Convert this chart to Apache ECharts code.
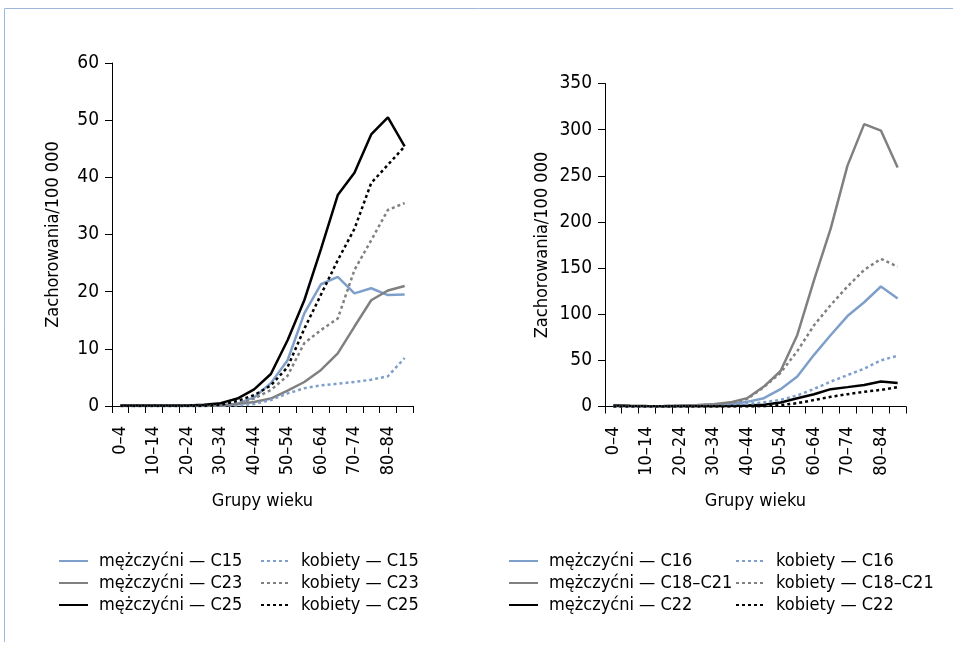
<!DOCTYPE html>
<html>
<head>
<meta charset="utf-8">
<script src="https://cdn.jsdelivr.net/npm/echarts@6/dist/echarts.min.js"></script>
<style>
  html, body { margin: 0; padding: 0; background: #fff; }
  #chart { width: 953px; height: 645px; }
</style>
</head>
<body>
<div id="chart"></div>
<script>
// grupy wieku
var ageGroups = ['0–4', '5–9', '10–14', '15–19', '20–24', '25–29', '30–34', '35–39', '40–44',
    '45–49', '50–54', '55–59', '60–64', '65–69', '70–74', '75–79', '80–84', '85+'];

// lewy wykres: C15, C23, C25
var menC15 = [0, 0, 0, 0, 0, 0, 0.1, 0.4, 1.5, 4, 8, 16.2, 21.3, 22.6, 19.7, 20.6, 19.4, 19.5];
var menC23 = [0, 0, 0, 0, 0, 0, 0.1, 0.3, 0.7, 1.3, 2.7, 4.2, 6.3, 9.2, 13.9, 18.5, 20.2, 21];
var menC25 = [0.1, 0.1, 0.1, 0.1, 0.1, 0.2, 0.5, 1.3, 2.9, 5.6, 11.5, 18.5, 27.5, 36.9, 40.8, 47.5, 50.5, 45.4];
var womenC15 = [0, 0, 0, 0, 0, 0, 0.05, 0.1, 0.35, 1.05, 2.2, 3.1, 3.6, 3.9, 4.2, 4.6, 5.2, 8.4];
var womenC23 = [0, 0, 0, 0, 0, 0, 0.1, 0.4, 1.3, 2.8, 5.3, 11, 13.3, 15.3, 23.8, 29, 34.3, 35.5];
var womenC25 = [0, 0, 0, 0, 0, 0.05, 0.2, 0.9, 1.9, 3.6, 6.8, 13.5, 19.5, 25.5, 31, 39, 42.2, 45.4];

// prawy wykres: C16, C18–C21, C22
var menC16 = [0.5, 0.3, 0.3, 0.4, 0.6, 1, 1.8, 3, 5, 9, 18.8, 32.5, 56, 77.5, 98, 113, 130, 117];
var menC18 = [0.5, 0.3, 0.3, 0.5, 1, 1.5, 2.5, 4.5, 9, 21.6, 38.5, 77.5, 137, 193, 261, 306, 299, 259];
var menC22 = [1.2, 0.8, 0.5, 0.3, 0.3, 0.3, 0.4, 0.5, 1, 2, 4.3, 9, 13.3, 18.8, 21, 23.4, 27, 25.5];
var womenC16 = [0.3, 0.2, 0.2, 0.4, 0.6, 1, 1.5, 2.2, 3, 4.5, 7.2, 12, 19, 27, 34, 41, 50, 55];
var womenC18 = [0.3, 0.2, 0.2, 0.4, 0.8, 1.3, 2.2, 4, 8, 21, 36.5, 60, 88, 110, 130, 148, 160, 151.5];
var womenC22 = [0, 0, 0, 0, 0, 0, 0, 0, 0, 0.3, 1.5, 3.6, 7, 10.5, 13.3, 16, 18, 21];

var FONT = "'Liberation Sans Narrow', 'DejaVu Sans Condensed', sans-serif";
var BLUE = '#7f9fcb', GRAY = '#808080', BLACK = '#000000';
var DOTS = [3, 3];

function xAxisFor(gridIndex) {
    return {
        type: 'category',
        gridIndex: gridIndex,
        data: ageGroups,
        boundaryGap: true,
        name: 'Grupy wieku',
        nameLocation: 'middle',
        nameGap: 86,
        nameTextStyle: { fontFamily: FONT, fontSize: 18, color: '#000' },
        axisLine: { lineStyle: { color: '#000', width: 1 } },
        axisTick: { show: true, interval: 0, length: 7, alignWithLabel: false, lineStyle: { color: '#000' } },
        axisLabel: { interval: 1, rotate: 90, margin: 20, fontFamily: FONT, fontSize: 18, color: '#000' },
        splitLine: { show: false }
    };
}

function yAxisFor(gridIndex, max, interval, gap) {
    return {
        type: 'value',
        gridIndex: gridIndex,
        min: 0,
        max: max,
        interval: interval,
        name: 'Zachorowania/100 000',
        nameLocation: 'middle',
        nameGap: gap,
        nameTextStyle: { fontFamily: FONT, fontSize: 18, color: '#000' },
        axisLine: { show: true, lineStyle: { color: '#000', width: 1 } },
        axisTick: { show: true, length: 7, lineStyle: { color: '#000' } },
        axisLabel: { margin: 13, fontFamily: FONT, fontSize: 19, color: '#000' },
        splitLine: { show: false }
    };
}

function line(name, data, color, dotted, idx) {
    return {
        name: name,
        type: 'line',
        xAxisIndex: idx,
        yAxisIndex: idx,
        data: data,
        symbol: 'none',
        animation: false,
        lineStyle: { color: color, width: 2.5, type: dotted ? DOTS : 'solid' },
        itemStyle: { color: color }
    };
}

function legendAt(left, names) {
    return {
        orient: 'vertical',
        left: left,
        top: 552,
        padding: 0,
        itemWidth: 29,
        itemHeight: 14,
        itemGap: 4,
        data: names,
        itemStyle: { opacity: 0 },
        textStyle: { fontFamily: FONT, fontSize: 18, color: '#000', padding: [0, 0, 0, 6] }
    };
}

var chart = echarts.init(document.getElementById('chart'));
chart.setOption({
    backgroundColor: '#fff',
    animation: false,
    graphic: [{
        type: 'polyline',
        shape: { points: [[4.5, 642], [4.5, 8.5], [953, 8.5]] },
        style: { stroke: '#9db8dc', lineWidth: 1, fill: null }
    }],
    grid: [
        { left: 112, top: 63, width: 301, height: 343 },
        { left: 605, top: 83.5, width: 301, height: 323 }
    ],
    xAxis: [xAxisFor(0), xAxisFor(1)],
    yAxis: [yAxisFor(0, 60, 10, 50), yAxisFor(1, 350, 50, 54)],
    legend: [
        legendAt(58, ['mężczyćni — C15', 'mężczyćni — C23', 'mężczyćni — C25']),
        legendAt(260, ['kobiety — C15', 'kobiety — C23', 'kobiety — C25']),
        legendAt(508, ['mężczyćni — C16', 'mężczyćni — C18–C21', 'mężczyćni — C22']),
        legendAt(735, ['kobiety — C16', 'kobiety — C18–C21', 'kobiety — C22'])
    ],
    series: [
        line('mężczyćni — C15', menC15, BLUE, false, 0),
        line('mężczyćni — C23', menC23, GRAY, false, 0),
        line('mężczyćni — C25', menC25, BLACK, false, 0),
        line('kobiety — C15', womenC15, BLUE, true, 0),
        line('kobiety — C23', womenC23, GRAY, true, 0),
        line('kobiety — C25', womenC25, BLACK, true, 0),
        line('mężczyćni — C16', menC16, BLUE, false, 1),
        line('mężczyćni — C18–C21', menC18, GRAY, false, 1),
        line('mężczyćni — C22', menC22, BLACK, false, 1),
        line('kobiety — C16', womenC16, BLUE, true, 1),
        line('kobiety — C18–C21', womenC18, GRAY, true, 1),
        line('kobiety — C22', womenC22, BLACK, true, 1)
    ]
});
</script>
</body>
</html>
